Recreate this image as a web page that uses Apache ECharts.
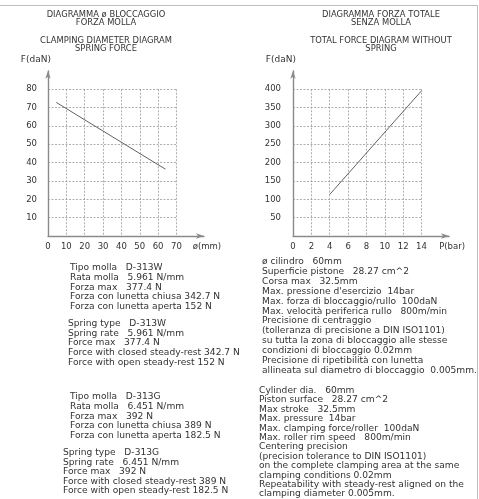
<!DOCTYPE html>
<html><head><meta charset="utf-8">
<script src="https://cdn.jsdelivr.net/npm/echarts@6/dist/echarts.min.js"></script>
<style>html,body{margin:0;padding:0;background:#fff}#c{width:479px;height:499px}</style>
</head><body><div id="c"></div>
<script>
// ---------- data ----------
const springDiameter = [4.5, 64];      // ø (mm)
const springForce    = [72.8, 36.4];   // F (daN)
const pressure       = [4, 14];        // P (bar)
const totalForce     = [113.1, 395.8]; // F (daN)

const leftXMax = 70, leftYMax = 80, leftXStep = 10, leftYStep = 10;
const rightXMax = 14, rightYMax = 400, rightXStep = 2, rightYStep = 50;

const titlesLeft  = ['DIAGRAMMA ø BLOCCAGGIO', 'FORZA MOLLA', 'CLAMPING DIAMETER DIAGRAM', 'SPRING FORCE'];
const titlesRight = ['DIAGRAMMA FORZA TOTALE', 'SENZA MOLLA', 'TOTAL FORCE DIAGRAM WITHOUT', 'SPRING'];
const leftYName = 'F(daN)', leftXName = 'ø(mm)';
const rightYName = 'F(daN)', rightXName = 'P(bar)';

const springW_IT = ['Tipo molla   D-313W', 'Rata molla   5.961 N/mm', 'Forza max   377.4 N',
  'Forza con lunetta chiusa 342.7 N', 'Forza con lunetta aperta 152 N'];
const springW_EN = ['Spring type   D-313W', 'Spring rate   5.961 N/mm', 'Force max   377.4 N',
  'Force with closed steady-rest 342.7 N', 'Force with open steady-rest 152 N'];
const springG_IT = ['Tipo molla   D-313G', 'Rata molla   6.451 N/mm', 'Forza max   392 N',
  'Forza con lunetta chiusa 389 N', 'Forza con lunetta aperta 182.5 N'];
const springG_EN = ['Spring type   D-313G', 'Spring rate   6.451 N/mm', 'Force max   392 N',
  'Force with closed steady-rest 389 N', 'Force with open steady-rest 182.5 N'];
const cylinder_IT = ['ø cilindro   60mm', 'Superficie pistone   28.27 cm^2', 'Corsa max   32.5mm',
  "Max. pressione d'esercizio  14bar", 'Max. forza di bloccaggio/rullo  100daN',
  'Max. velocità periferica rullo   800m/min', 'Precisione di centraggio',
  '(tolleranza di precisione a DIN ISO1101)', 'su tutta la zona di bloccaggio alle stesse',
  'condizioni di bloccaggio 0.02mm', 'Precisione di ripetibilità con lunetta',
  'allineata sul diametro di bloccaggio  0.005mm.'];
const cylinder_EN = ['Cylinder dia.   60mm', 'Piston surface   28.27 cm^2', 'Max stroke   32.5mm',
  'Max. pressure  14bar', 'Max. clamping force/roller  100daN', 'Max. roller rim speed   800m/min',
  'Centering precision', '(precision tolerance to DIN ISO1101)',
  'on the complete clamping area at the same', 'clamping conditions 0.02mm',
  'Repeatability with steady-rest aligned on the', 'clamping diameter 0.005mm.'];

// ---------- layout helpers ----------
const FAM = '"DejaVu Sans"';
const cv = document.createElement('canvas').getContext('2d');
function fit(text, target) { cv.font = '100px ' + FAM; return 100 * target / cv.measureText(text).width; }
function width(text, size) { cv.font = size + 'px ' + FAM; return cv.measureText(text).width; }
const bodySize = fit(springW_EN[3], 172);
const titleSize = fit(titlesLeft[2], 132);
const tickSize = 8.5;
const TXT = '#333333';

const x0L = 48, x0R = 293, yBase = 236;
const pxL = 1.835, pyL = 1.835;           // px per unit (left)
const pxR = 9.18, pyR = 0.367;            // px per unit (right)
const extX = 15, extY = 10;                // axis overhang (in units of left chart)

function pair(xs, ys) { return xs.map((x, i) => [x, ys[i]]); }

const gridStyle = { show: true, showMinLine: true, showMaxLine: true,
  lineStyle: { color: '#9a9a9a', width: 0.8, type: [2, 1.5] } };
const axisLineStyle = { show: true, symbol: ['none', 'arrow'], symbolSize: [4, 8],
  lineStyle: { color: '#8a8a8a', width: 1.4 } };

const grids = [
  { left: x0L, top: yBase - leftYMax * pyL, width: leftXMax * pxL, height: leftYMax * pyL },
  { left: x0L, top: yBase - (leftYMax + extY) * pyL, width: (leftXMax + extX) * pxL, height: (leftYMax + extY) * pyL },
  { left: x0R, top: yBase - rightYMax * pyR, width: rightXMax * pxR, height: rightYMax * pyR },
  { left: x0R, top: yBase - (rightYMax + 50) * pyR, width: (rightXMax + 3) * pxR, height: (rightYMax + 50) * pyR }
];

const labelStyle = { color: TXT, fontFamily: FAM, fontSize: tickSize };
function gridX(i, max, step) { return { gridIndex: i, type: 'value', min: 0, max: max, interval: step,
  axisLine: { show: false }, axisTick: { show: false }, axisLabel: { show: false }, splitLine: gridStyle }; }
function axX(i, max, step, shownMax, name) { return { gridIndex: i, type: 'value', min: 0, max: max, interval: step,
  axisLine: axisLineStyle, axisTick: { show: false }, splitLine: { show: false },
  axisLabel: Object.assign({ margin: 6, showMaxLabel: true, formatter: v => (v <= shownMax ? String(v) : '') }, labelStyle),
  name: name, nameLocation: 'end', nameGap: 3,
  nameTextStyle: { color: TXT, fontFamily: FAM, fontSize: tickSize, align: 'center', verticalAlign: 'top', padding: [6, 0, 0, 0] } }; }
function axY(i, max, step, shownMax, name, margin) { return { gridIndex: i, type: 'value', min: 0, max: max, interval: step,
  axisLine: axisLineStyle, axisTick: { show: false }, splitLine: { show: false },
  axisLabel: Object.assign({ margin: margin, formatter: v => (v > 0 && v <= shownMax ? String(v) : '') }, labelStyle),
  name: name, nameLocation: 'end', nameGap: 7,
  nameTextStyle: { color: TXT, fontFamily: FAM, fontSize: 9, align: 'right', padding: [0, -3, 0, 0] } }; }

function block(lines, left, top, lh) {
  return { type: 'text', left: left, top: top, silent: true,
    style: { text: lines.join('\n'), fill: TXT, font: bodySize.toFixed(2) + 'px ' + FAM, lineHeight: lh } };
}
function titles(lines, cx) {
  const ys = [10.5, 19, 37, 45];
  return lines.map((t, i) => ({ type: 'text', left: cx - width(t, titleSize) / 2, top: ys[i], silent: true,
    style: { text: t, fill: TXT, font: titleSize.toFixed(2) + 'px ' + FAM } }));
}
const rightBlockX = 477 - width(cylinder_IT[11], bodySize);

const option = {
  animation: false,
  backgroundColor: '#fff',
  grid: grids,
  xAxis: [gridX(0, leftXMax, leftXStep), axX(1, leftXMax + extX, leftXStep, leftXMax, leftXName),
          gridX(2, rightXMax, rightXStep), axX(3, rightXMax + 3, rightXStep, rightXMax, rightXName)],
  yAxis: [gridX(0, leftYMax, leftYStep), axY(1, leftYMax + extY, leftYStep, leftYMax, leftYName, 11),
          gridX(2, rightYMax, rightYStep), axY(3, rightYMax + 50, rightYStep, rightYMax, rightYName, 12)],
  series: [
    { type: 'line', xAxisIndex: 0, yAxisIndex: 0, data: pair(springDiameter, springForce), symbol: 'none',
      lineStyle: { color: '#505050', width: 0.9 }, z: 5 },
    { type: 'line', xAxisIndex: 2, yAxisIndex: 2, data: pair(pressure, totalForce), symbol: 'none',
      lineStyle: { color: '#505050', width: 0.9 }, z: 5 }
  ],
  graphic: [
    { type: 'line', silent: true, shape: { x1: 0, y1: 5.5, x2: 477.5, y2: 5.5 }, style: { stroke: '#bdbdbd', lineWidth: 1 } },
    { type: 'line', silent: true, shape: { x1: 477.5, y1: 5.5, x2: 477.5, y2: 499 }, style: { stroke: '#bdbdbd', lineWidth: 1 } },
    ...titles(titlesLeft, 106), ...titles(titlesRight, 381),
    block(springW_IT, 70, 263, 9.7),
    block(springW_EN, 68, 319, 9.6),
    block(springG_IT, 70, 392, 9.7),
    block(springG_EN, 63, 448, 9.5),
    block(cylinder_IT, rightBlockX, 257, 9.85),
    block(cylinder_EN, rightBlockX - 3, 386, 9.4)
  ]
};
const chart = echarts.init(document.getElementById('c'), null, { renderer: 'canvas' });
chart.setOption(option);
</script></body></html>
